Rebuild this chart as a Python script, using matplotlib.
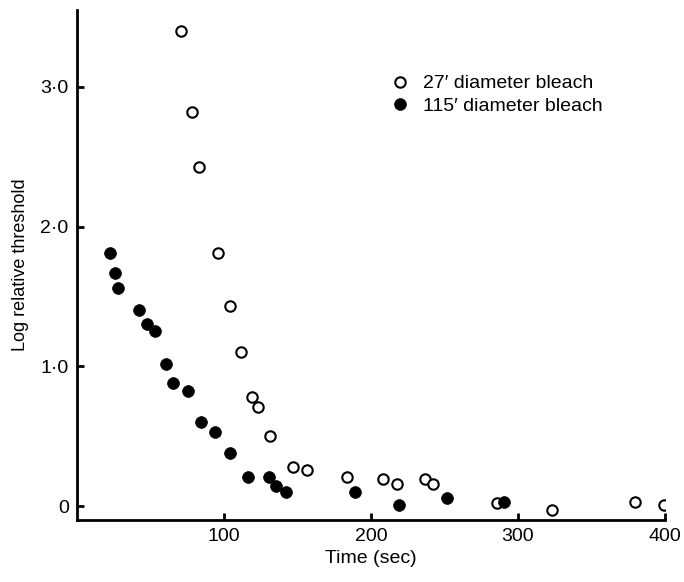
import matplotlib
matplotlib.use('Agg')
import matplotlib.pyplot as plt
from matplotlib.ticker import FixedLocator

# 27' diameter bleach (open circles)
small_t = [70.7, 78.4, 83.0, 95.9, 104.1, 111.6, 118.8, 123.1, 131.1, 147.1,
           156.3, 183.9, 208.0, 217.7, 236.9, 242.4, 285.7, 323.3, 379.8, 399.5]
small_thr = [3.40, 2.82, 2.43, 1.81, 1.43, 1.10, 0.78, 0.71, 0.50, 0.28,
             0.26, 0.21, 0.19, 0.16, 0.19, 0.16, 0.02, -0.03, 0.03, 0.01]

# 115' diameter bleach (filled circles)
large_t = [22.4, 26.1, 27.9, 42.4, 47.6, 52.9, 60.3, 65.5, 75.3, 84.6,
           93.9, 104.1, 116.5, 130.8, 135.2, 142.0, 189.1, 219.0, 251.7, 290.5]
large_thr = [1.81, 1.67, 1.56, 1.40, 1.30, 1.25, 1.02, 0.88, 0.82, 0.60,
             0.53, 0.38, 0.21, 0.21, 0.14, 0.10, 0.10, 0.01, 0.055, 0.03]

xticks = [100, 200, 300, 400]
yticks = [0, 1, 2, 3]
ytick_labels = ['0', '1\u00b70', '2\u00b70', '3\u00b70']

plt.rcParams['font.family'] = ['Liberation Sans', 'DejaVu Sans']

fig = plt.figure(figsize=(6.84, 5.82), dpi=100)
ax = fig.add_axes([0.1126, 0.1065, 0.8596, 0.8763])

ax.plot(small_t, small_thr, 'o', ms=7.5, mfc='white', mec='black', mew=1.5,
        ls='none', label="27\u2032 diameter bleach")
ax.plot(large_t, large_thr, 'o', ms=8.5, mfc='black', mec='black', mew=0.5,
        ls='none', label="115\u2032 diameter bleach")

ax.set_xlim(0, 400)
ax.set_ylim(-0.10, 3.55)
ax.xaxis.set_major_locator(FixedLocator(xticks))
ax.set_yticks(yticks)
ax.set_yticklabels(ytick_labels)

for s in ['top', 'right']:
    ax.spines[s].set_visible(False)
for s in ['left', 'bottom']:
    ax.spines[s].set_linewidth(2)
ax.tick_params(direction='in', length=5, width=2, labelsize=14, pad=6)

ax.set_xlabel('Time (sec)', fontsize=14, labelpad=3)
ax.set_ylabel('Log relative threshold', fontsize=13, labelpad=8)

ax.legend(loc='upper left', bbox_to_anchor=(0.517, 0.892), frameon=False,
          fontsize=14, handletextpad=0.65, labelspacing=0.25,
          handlelength=1.0, borderpad=0)

fig.savefig('out.png', dpi=100)
